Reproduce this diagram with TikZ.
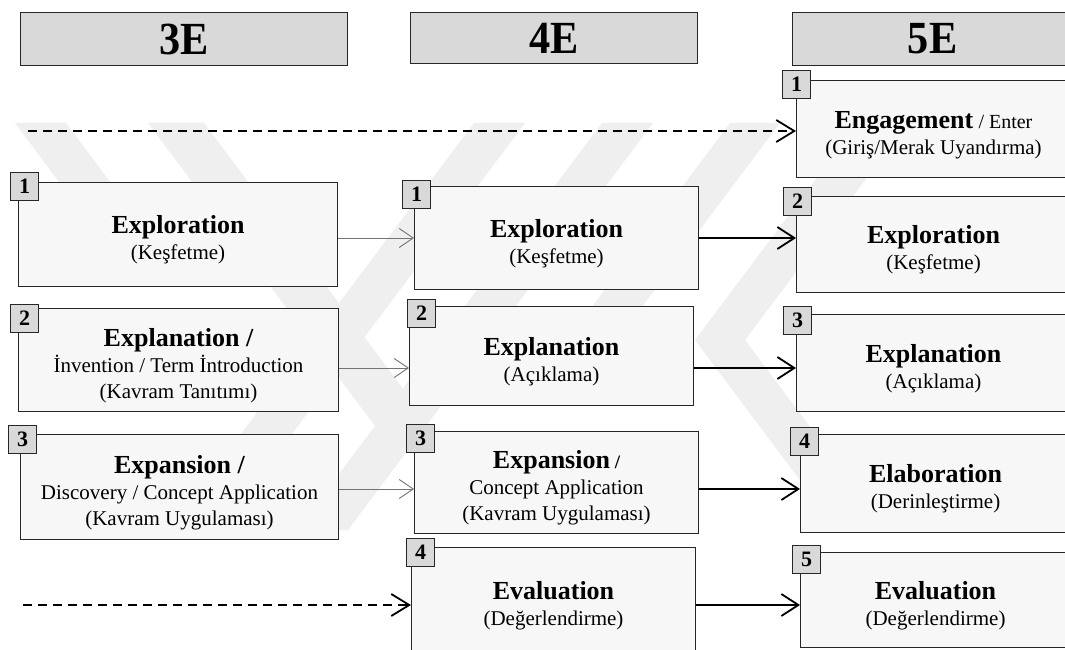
\documentclass[tikz,border=0pt]{standalone}
\usepackage{fontspec}
\setmainfont{Liberation Serif}
\usetikzlibrary{arrows.meta}
\definecolor{boxfill}{HTML}{F7F7F7}
\definecolor{tagfill}{HTML}{D9D9D9}
\definecolor{wmark}{HTML}{EFEFEF}
\definecolor{edge}{HTML}{262626}
% bold stage title; the strut lowers the text block a little inside its box
\newcommand{\ttl}[1]{\rule{0pt}{29pt}{\fontsize{26}{26}\selectfont\bfseries #1}}
\begin{document}
\begin{tikzpicture}[x=1pt,y=-1pt,
  header/.style={draw=edge, line width=1.1pt, fill=tagfill, anchor=north west,
    inner sep=0pt, font=\fontsize{46}{46}\selectfont\bfseries},
  stage/.style={draw=edge, line width=1pt, fill=boxfill, anchor=north west,
    inner sep=0pt, align=center, font=\fontsize{21}{26}\selectfont},
  tag/.style={draw=edge, line width=1pt, fill=tagfill, anchor=north west,
    minimum width=28pt, minimum height=28pt, inner sep=0pt,
    font=\fontsize{22}{22}\selectfont\bfseries},
  flow/.style={line width=1.8pt, -{Straight Barb[length=17pt,width=22pt,line width=1.8pt]}},
  feed/.style={draw=black!55, line width=0.9pt, -{Straight Barb[length=14pt,width=19pt,line width=0.9pt]}},
  lead/.style={line width=1.8pt, dash pattern=on 9pt off 6pt,
    -{Straight Barb[length=18pt,width=22pt,line width=1.8pt]}}
]
\useasboundingbox (0,0) rectangle (1065,650);
\fill[white] (0,0) rectangle (1065,650);

% faint background stripes
\begin{scope}
\clip (0,0) rectangle (1065,650);
\fill[wmark] (15,123) -- (66,123) -- (176,270) -- (125,270) -- cycle;
\fill[wmark] (148,123) -- (204,123) -- (449,450) -- (393,450) -- cycle;
\fill[wmark] (474,123) -- (525,123) -- (220,530) -- (169,530) -- cycle;
\fill[wmark] (602,123) -- (653,123) -- (348,530) -- (297,530) -- cycle;
\fill[wmark] (730,123) -- (780,123) -- (620,336) -- (570,336) -- cycle;
\fill[wmark] (858,123) -- (908,123) -- (745,340) -- (695,340) -- cycle;
\fill[wmark] (695,340) -- (745,340) -- (885,527) -- (835,527) -- cycle;
\end{scope}

% column headers
\node[header, minimum width=327pt, minimum height=53pt] (h3) at (20,12) {\scalebox{0.92}[1]{3E}};
\node[header, minimum width=287pt, minimum height=51pt] (h4) at (410,12) {\scalebox{0.92}[1]{4E}};
\node[header, minimum width=280pt, minimum height=53pt] (h5) at (792,12) {\scalebox{0.92}[1]{5E}};

% 3E stages
\node[stage, minimum width=319pt, minimum height=104pt] (a1) at (18,182)
  {\ttl{Exploration}\\(Keşfetme)};
\node[stage, minimum width=320pt, minimum height=103pt] (a2) at (18,308)
  {\ttl{Explanation /}\\İnvention / Term İntroduction\\(Kavram Tanıtımı)};
\node[stage, minimum width=318pt, minimum height=105pt] (a3) at (20,434)
  {\ttl{Expansion /}\\Discovery / Concept Application\\(Kavram Uygulaması)};
\node[tag] (ta1) at (10,172) {1};
\node[tag] (ta2) at (10,304) {2};
\node[tag] (ta3) at (8,425) {3};

% 4E stages
\node[stage, minimum width=284pt, minimum height=103pt] (b1) at (414,186)
  {\ttl{Exploration}\\(Keşfetme)};
\node[stage, minimum width=284pt, minimum height=99pt] (b2) at (409,306)
  {\ttl{Explanation}\\(Açıklama)};
\node[stage, minimum width=284pt, minimum height=102pt] (b3) at (414,431)
  {\ttl{Expansion}{\fontsize{19}{19}\selectfont\bfseries\ /}\\Concept Application\\(Kavram Uygulaması)};
\node[stage, minimum width=284pt, minimum height=106pt] (b4) at (411,547)
  {\ttl{Evaluation}\\(Değerlendirme)};
\node[tag] (tb1) at (402,180) {1};
\node[tag] (tb2) at (407,299) {2};
\node[tag] (tb3) at (406,424) {3};
\node[tag] (tb4) at (406,538) {4};

% 5E stages
\node[stage, minimum width=274pt, minimum height=97pt] (c1) at (796,80)
  {\ttl{Engagement} {\fontsize{20}{20}\selectfont/ Enter}\\(Giriş/Merak Uyandırma)};
\node[stage, minimum width=274pt, minimum height=96pt] (c2) at (796,196)
  {\ttl{Exploration}\\(Keşfetme)};
\node[stage, minimum width=274pt, minimum height=97pt] (c3) at (796,314)
  {\ttl{Explanation}\\(Açıklama)};
\node[stage, minimum width=270pt, minimum height=98pt] (c4) at (800,434)
  {\ttl{Elaboration}\\(Derinleştirme)};
\node[stage, minimum width=270pt, minimum height=95pt] (c5) at (800,552)
  {\ttl{Evaluation}\\(Değerlendirme)};
\node[tag] (tc1) at (782,70) {1};
\node[tag] (tc2) at (783,187) {2};
\node[tag] (tc3) at (783,306) {3};
\node[tag] (tc4) at (790,427) {4};
\node[tag] (tc5) at (792,545) {5};

% arrow rows
\coordinate (top) at (28,131);
\coordinate (low) at (23,605);
\coordinate (r1) at (0,238);
\coordinate (r2) at (0,368);
\coordinate (r3) at (0,489);

% 3E -> 4E
\draw[feed] (a1.east |- r1) -- (b1.west |- r1);
\draw[feed] (a2.east |- r2) -- (b2.west |- r2);
\draw[feed] (a3.east |- r3) -- (b3.west |- r3);

% 4E -> 5E
\draw[flow] (b1.east |- r1) -- (c2.west |- r1);
\draw[flow] (b2.east |- r2) -- (c3.west |- r2);
\draw[flow] (b3.east |- r3) -- (c4.west |- r3);
\draw[flow] (b4.east |- low) -- (c5.west |- low);

% stages with no earlier counterpart
\draw[lead] (top) -- (c1.west |- top);
\draw[lead] (low) -- (b4.west |- low);
\end{tikzpicture}
\end{document}
